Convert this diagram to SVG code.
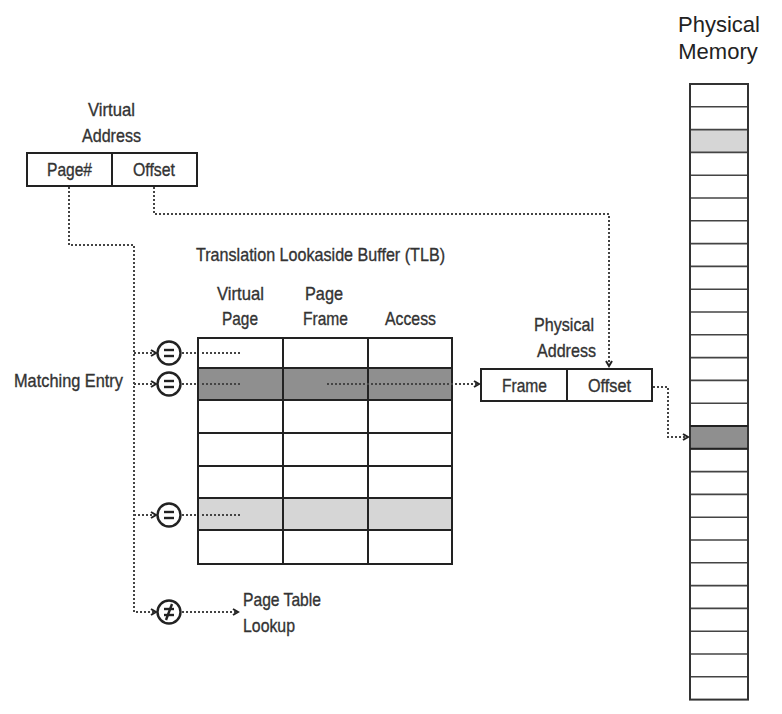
<svg xmlns="http://www.w3.org/2000/svg" width="782" height="714" viewBox="0 0 782 714">
<defs>
<style>
text{font-family:"Liberation Sans",Arial,sans-serif;fill:#333;font-size:19px;stroke:#333;stroke-width:0.35}
.pm{font-size:22px;text-anchor:middle;fill:#222;stroke:none}
.box{fill:#fff;stroke:#222;stroke-width:2}
.ln{stroke:#222;stroke-width:2;fill:none}
.mln{stroke:#444;stroke-width:1.6;fill:none}
.dot{stroke:#444;stroke-width:2;stroke-dasharray:2 2;fill:none}
.dk{fill:#8f8f8f}
.lt{fill:#d6d6d6}
.cir{fill:#fff;stroke:#222;stroke-width:2.4}
.eq{stroke:#222;stroke-width:2.4}
</style>
<marker id="ah" viewBox="0 0 8 8" refX="6" refY="4" markerWidth="8" markerHeight="8" markerUnits="userSpaceOnUse" orient="auto">
<path d="M1,1 L6,4 L1,7" fill="none" stroke="#222" stroke-width="2"/>
</marker>
</defs>
<rect width="782" height="714" fill="#fff"/>

<g id="virtual-address">
<text x="88" y="116" textLength="47" lengthAdjust="spacingAndGlyphs">Virtual</text>
<text x="82" y="141.5" textLength="59" lengthAdjust="spacingAndGlyphs">Address</text>
<rect class="box" x="27" y="153" width="170" height="33"/>
<line class="ln" x1="112" y1="153" x2="112" y2="186"/>
<text x="47" y="176" textLength="45" lengthAdjust="spacingAndGlyphs">Page#</text>
<text x="133" y="176" textLength="42" lengthAdjust="spacingAndGlyphs">Offset</text>
</g>

<g id="tlb">
<text x="196" y="261" textLength="249" lengthAdjust="spacingAndGlyphs">Translation Lookaside Buffer (TLB)</text>
<text x="217" y="300" textLength="47" lengthAdjust="spacingAndGlyphs">Virtual</text>
<text x="222" y="325" textLength="36" lengthAdjust="spacingAndGlyphs">Page</text>
<text x="305" y="300" textLength="38" lengthAdjust="spacingAndGlyphs">Page</text>
<text x="303" y="325" textLength="45" lengthAdjust="spacingAndGlyphs">Frame</text>
<text x="385" y="325" textLength="51" lengthAdjust="spacingAndGlyphs">Access</text>
<rect x="198" y="338" width="254" height="226" fill="#fff"/>
<rect class="dk" x="198" y="368" width="254" height="32"/>
<rect class="lt" x="198" y="498" width="254" height="32"/>
<g class="ln">
<rect x="198" y="338" width="254" height="226"/>
<line x1="283" y1="338" x2="283" y2="564"/>
<line x1="368" y1="338" x2="368" y2="564"/>
<line x1="198" y1="368" x2="452" y2="368"/>
<line x1="198" y1="400" x2="452" y2="400"/>
<line x1="198" y1="433" x2="452" y2="433"/>
<line x1="198" y1="466" x2="452" y2="466"/>
<line x1="198" y1="498" x2="452" y2="498"/>
<line x1="198" y1="530" x2="452" y2="530"/>
</g>
</g>

<g id="matching-entry">
<text x="14" y="387" textLength="109" lengthAdjust="spacingAndGlyphs">Matching Entry</text>
</g>

<g id="compare-1">
<circle class="cir" cx="169" cy="353" r="11.5"/>
<line class="eq" x1="164" y1="350" x2="174" y2="350"/><line class="eq" x1="164" y1="356" x2="174" y2="356"/>
</g>
<g id="compare-2">
<circle class="cir" cx="169" cy="384" r="11.5"/>
<line class="eq" x1="164" y1="381" x2="174" y2="381"/><line class="eq" x1="164" y1="387" x2="174" y2="387"/>
</g>
<g id="compare-3">
<circle class="cir" cx="169" cy="515" r="11.5"/>
<line class="eq" x1="164" y1="512" x2="174" y2="512"/><line class="eq" x1="164" y1="518" x2="174" y2="518"/>
</g>
<g id="compare-miss">
<circle class="cir" cx="169" cy="612" r="11.5"/>
<line class="eq" x1="164" y1="609" x2="174" y2="609"/><line class="eq" x1="164" y1="615" x2="174" y2="615"/>
<line class="eq" x1="172" y1="604" x2="166" y2="620"/>
</g>

<g id="page-table-lookup">
<text x="243" y="606" textLength="78" lengthAdjust="spacingAndGlyphs">Page Table</text>
<text x="243" y="632" textLength="52" lengthAdjust="spacingAndGlyphs">Lookup</text>
</g>

<g id="physical-address">
<text x="534" y="331" textLength="60" lengthAdjust="spacingAndGlyphs">Physical</text>
<text x="537" y="356.5" textLength="59" lengthAdjust="spacingAndGlyphs">Address</text>
<rect class="box" x="481" y="369" width="171" height="32"/>
<line class="ln" x1="567" y1="369" x2="567" y2="401"/>
<text x="502" y="391.5" textLength="45" lengthAdjust="spacingAndGlyphs">Frame</text>
<text x="588" y="391.5" textLength="43" lengthAdjust="spacingAndGlyphs">Offset</text>
</g>

<g id="physical-memory">
<text class="pm" x="719" y="32">Physical</text>
<text class="pm" x="718" y="59">Memory</text>
<rect x="690" y="84" width="58" height="615.6" fill="#fff"/>
<rect class="lt" x="690" y="129.6" width="58" height="22.8"/>
<rect class="dk" x="690" y="426" width="58" height="22.8"/>
<g class="mln">
<line x1="690" y1="106.8" x2="748" y2="106.8"/>
<line x1="690" y1="129.6" x2="748" y2="129.6"/>
<line x1="690" y1="152.4" x2="748" y2="152.4"/>
<line x1="690" y1="175.2" x2="748" y2="175.2"/>
<line x1="690" y1="198" x2="748" y2="198"/>
<line x1="690" y1="220.8" x2="748" y2="220.8"/>
<line x1="690" y1="243.6" x2="748" y2="243.6"/>
<line x1="690" y1="266.4" x2="748" y2="266.4"/>
<line x1="690" y1="289.2" x2="748" y2="289.2"/>
<line x1="690" y1="312" x2="748" y2="312"/>
<line x1="690" y1="334.8" x2="748" y2="334.8"/>
<line x1="690" y1="357.6" x2="748" y2="357.6"/>
<line x1="690" y1="380.4" x2="748" y2="380.4"/>
<line x1="690" y1="403.2" x2="748" y2="403.2"/>
<line x1="690" y1="426" x2="748" y2="426"/>
<line x1="690" y1="448.8" x2="748" y2="448.8"/>
<line x1="690" y1="471.6" x2="748" y2="471.6"/>
<line x1="690" y1="494.4" x2="748" y2="494.4"/>
<line x1="690" y1="517.2" x2="748" y2="517.2"/>
<line x1="690" y1="540" x2="748" y2="540"/>
<line x1="690" y1="562.8" x2="748" y2="562.8"/>
<line x1="690" y1="585.6" x2="748" y2="585.6"/>
<line x1="690" y1="608.4" x2="748" y2="608.4"/>
<line x1="690" y1="631.2" x2="748" y2="631.2"/>
<line x1="690" y1="654" x2="748" y2="654"/>
<line x1="690" y1="676.8" x2="748" y2="676.8"/>
</g>
<rect x="690" y="84" width="58" height="615.6" fill="none" stroke="#333" stroke-width="2"/>
<line class="ln" x1="690" y1="426" x2="748" y2="426"/>
<line class="ln" x1="690" y1="448.8" x2="748" y2="448.8"/>
</g>

<g id="connectors">
<polyline class="dot" points="69,187 69,245 134,245 134,612 156,612" marker-end="url(#ah)"/>
<line class="dot" x1="134" y1="353" x2="156" y2="353" marker-end="url(#ah)"/>
<line class="dot" x1="134" y1="384" x2="156" y2="384" marker-end="url(#ah)"/>
<line class="dot" x1="134" y1="515" x2="156" y2="515" marker-end="url(#ah)"/>
<line class="dot" x1="182" y1="353" x2="198" y2="353"/>
<line class="dot" x1="182" y1="384" x2="198" y2="384"/>
<line class="dot" x1="182" y1="515" x2="198" y2="515"/>
<line class="dot" x1="202" y1="353" x2="241" y2="353"/>
<line class="dot" x1="202" y1="384" x2="241" y2="384"/>
<line class="dot" x1="202" y1="515" x2="241" y2="515"/>
<line class="dot" x1="327" y1="384" x2="479" y2="384" marker-end="url(#ah)"/>
<line class="dot" x1="182" y1="612" x2="238" y2="612" marker-end="url(#ah)"/>
<polyline class="dot" points="154,187 154,214 609,214 609,366" marker-end="url(#ah)"/>
<polyline class="dot" points="653,387 668,387 668,437 688,437" marker-end="url(#ah)"/>
</g>
</svg>
